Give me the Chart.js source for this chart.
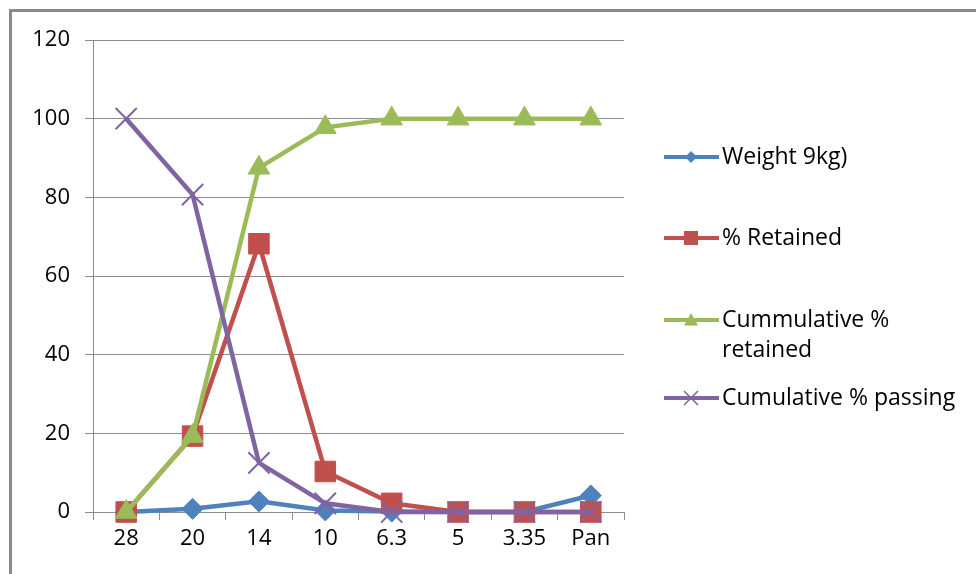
<!DOCTYPE html>
<html>
<head>
<meta charset="utf-8">
<script src="https://cdn.jsdelivr.net/npm/chart.js@4/dist/chart.umd.min.js"></script>
<style>
html,body{margin:0;padding:0;background:#fff;}
#wrap{width:976px;height:574px;position:relative;}
</style>
</head>
<body>
<div id="wrap"><canvas id="c" width="976" height="574"></canvas></div>
<script>
const categories = ['28','20','14','10','6.3','5','3.35','Pan'];
const weight = [0, 0.8, 2.7, 0.4, 0.1, 0, 0, 4.2];
const retained = [0, 19.3, 68.2, 10.3, 2.2, 0, 0, 0];
const cumRetained = [0, 19.3, 87.5, 97.8, 100, 100, 100, 100];
const cumPassing = [100, 80.7, 12.5, 2.2, 0, 0, 0, 0];
const seriesNames = ['Weight 9kg)', '% Retained', ['Cummulative %','retained'], 'Cumulative % passing'];
const yTicks = [0, 20, 40, 60, 80, 100, 120];

const FONT = '"Open Sans", sans-serif';
const colors = ['#4F81BD', '#C0504D', '#9BBB59', '#8064A2'];
const styles = ['rectRot', 'rect', 'triangle', 'crossRot'];

function drawMarker(ctx, style, x, y, s, color) {
  ctx.save();
  ctx.fillStyle = color; ctx.strokeStyle = color;
  ctx.beginPath();
  if (style === 'rectRot') {
    ctx.moveTo(x, y - s); ctx.lineTo(x + s, y); ctx.lineTo(x, y + s); ctx.lineTo(x - s, y); ctx.closePath(); ctx.fill();
  } else if (style === 'rect') {
    ctx.rect(x - s, y - s, 2 * s, 2 * s); ctx.fill();
  } else if (style === 'triangle') {
    ctx.moveTo(x, y - s); ctx.lineTo(x + s, y + s * 0.8); ctx.lineTo(x - s, y + s * 0.8); ctx.closePath(); ctx.fill();
  } else {
    ctx.lineWidth = 1.5;
    ctx.moveTo(x - s, y - s); ctx.lineTo(x + s, y + s); ctx.moveTo(x + s, y - s); ctx.lineTo(x - s, y + s); ctx.stroke();
  }
  ctx.restore();
}

const framePlugin = {
  id: 'frame',
  beforeDraw(chart) {
    const ctx = chart.ctx;
    ctx.save();
    ctx.strokeStyle = '#8a8a8a';
    ctx.lineWidth = 3;
    ctx.beginPath();
    ctx.moveTo(10.5, 580); ctx.lineTo(10.5, 10.5); ctx.lineTo(980, 10.5);
    ctx.stroke();
    ctx.restore();
  },
  afterDraw(chart) {
    const ctx = chart.ctx;
    const ys = [157, 238, 320, 398];
    const sizes = [6, 7, 7, 7];
    ctx.save();
    ctx.font = '23px ' + FONT;
    ctx.textBaseline = 'middle';
    ctx.fillStyle = '#000';
    for (let i = 0; i < 4; i++) {
      const y = ys[i];
      ctx.strokeStyle = colors[i];
      ctx.lineWidth = 4;
      ctx.beginPath(); ctx.moveTo(664, y); ctx.lineTo(719, y); ctx.stroke();
      drawMarker(ctx, styles[i], 691, y, sizes[i], colors[i]);
      const name = seriesNames[i];
      if (Array.isArray(name)) {
        name.forEach((t, k) => ctx.fillText(t, 722, y + k * 30));
      } else {
        ctx.fillText(name, 722, y);
      }
    }
    ctx.restore();
  }
};

const datasets = [
  { label: 'Weight 9kg)', data: weight, pointStyle: 'rectRot', pointRadius: 10.5, order: 3 },
  { label: '% Retained', data: retained, pointStyle: 'rect', pointRadius: 14.5, order: 2 },
  { label: 'Cummulative % retained', data: cumRetained, pointStyle: 'triangle', pointRadius: 12.5, order: 1 },
  { label: 'Cumulative % passing', data: cumPassing, pointStyle: 'crossRot', pointRadius: 15, order: 0, pointBorderWidth: 2 }
].map((d, i) => Object.assign({
  borderColor: colors[i],
  backgroundColor: colors[i],
  pointBackgroundColor: colors[i],
  pointBorderColor: colors[i],
  pointBorderWidth: 1,
  borderWidth: 4.5,
  tension: 0,
  clip: false,
  pointHoverRadius: d.pointRadius
}, d));

new Chart(document.getElementById('c'), {
  type: 'line',
  data: { labels: categories, datasets },
  options: {
    responsive: false,
    animation: false,
    events: [],
    layout: { padding: { left: 0, right: 352, top: 40, bottom: 0 } },
    plugins: { legend: { display: false }, tooltip: { enabled: false } },
    scales: {
      x: {
        offset: true,
        grid: { offset: true, drawOnChartArea: false, drawTicks: true, tickLength: 8, color: '#8c8c8c', lineWidth: 1 },
        border: { color: '#8c8c8c', width: 1 },
        ticks: { color: '#000', font: { family: FONT, size: 22 }, padding: 6, maxRotation: 0, autoSkip: false },
        afterFit(s) { s.height = 62; }
      },
      y: {
        min: 0, max: 120,
        afterBuildTicks(s) { s.ticks = yTicks.map(v => ({ value: v })); },
        grid: { color: '#8c8c8c', lineWidth: 1, tickLength: 8 },
        border: { color: '#8c8c8c', width: 1 },
        ticks: { color: '#000', font: { family: FONT, size: 22 }, padding: 15 },
        afterFit(s) { s.width = 93; }
      }
    }
  },
  plugins: [framePlugin]
});
</script>
</body>
</html>
